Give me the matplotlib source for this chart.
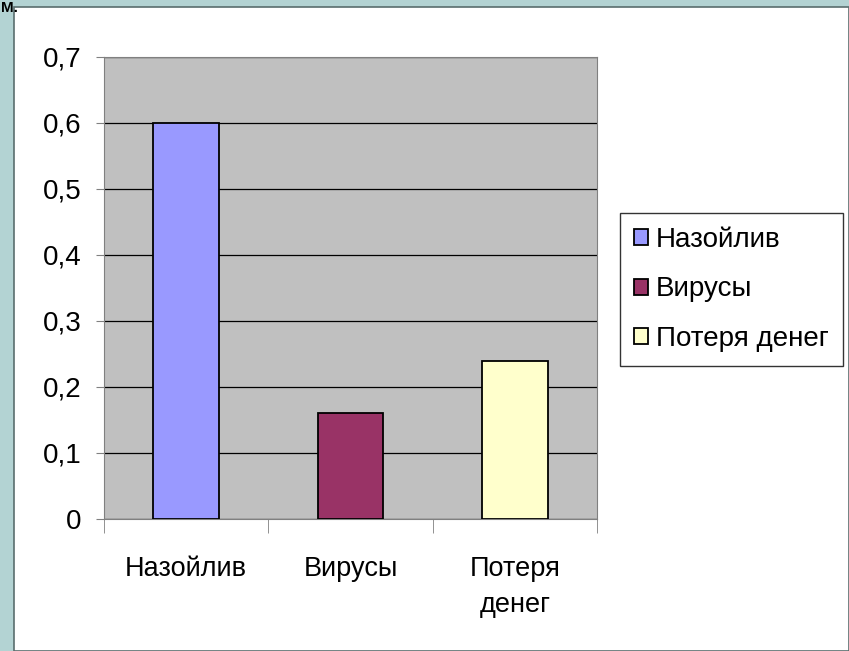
import matplotlib
matplotlib.use("Agg")
import matplotlib.pyplot as plt
from matplotlib.patches import Rectangle
import numpy as np

plt.rcParams['font.family'] = ['Liberation Sans', 'DejaVu Sans']

categories = ["Назойлив", "Вирусы", "Потеря\nденег"]
legend_labels = ["Назойлив", "Вирусы", "Потеря денег"]
values = [0.6, 0.16, 0.24]
colors = ["#9999FF", "#993366", "#FFFFCC"]
yticks = [0, 0.1, 0.2, 0.3, 0.4, 0.5, 0.6, 0.7]
yticklabels = ["0", "0,1", "0,2", "0,3", "0,4", "0,5", "0,6", "0,7"]

W, H = 849, 651
fig = plt.figure(figsize=(W/100, H/100), dpi=100)
fig.patch.set_facecolor("#B3D3D3")

# white slide panel
fig.patches.append(Rectangle((14/W, 0), 1 - 14/W, 1 - 7/H, transform=fig.transFigure,
                             facecolor="white", edgecolor="#5A6E6E", linewidth=1.2, zorder=-5))
# title fragment (clipped in the reference)
fig.text(1/W, 1 - 1/H, "М.", fontsize=11, fontweight="bold", va="top", ha="left", color="black")

ax = fig.add_axes([104/W, 1 - 519/H, (597-104)/W, (519-57)/H])
ax.set_zorder(2)
ax.set_facecolor("#C0C0C0")
x = np.arange(len(values))
bars = ax.bar(x, values, width=0.4, color=colors, edgecolor="black", linewidth=1.3, zorder=3)
ax.set_xlim(-0.5, len(values) - 0.5)
ax.set_ylim(0, 0.7)
ax.set_yticks(yticks)
ax.set_yticklabels(yticklabels, fontsize=20)
ax.yaxis.grid(True, color="black", linewidth=0.9, zorder=1)
ax.set_axisbelow(True)
ax.tick_params(axis="y", length=6, color="#808080", pad=10)

ax.set_xticks(x)
ax.set_xticklabels(categories, fontsize=19.5, linespacing=1.45)
ax.tick_params(axis="x", length=0, pad=27)
ax.set_xticks(np.arange(-0.5, len(values)), minor=True)
ax.tick_params(axis="x", which="minor", length=10, color="#808080")

for s in ["left", "top", "right", "bottom"]:
    ax.spines[s].set_color("#808080")

leg = fig.legend(bars, legend_labels, loc="upper left",
                 bbox_to_anchor=(620/W, 1 - 213/H), fontsize=20,
                 frameon=True, fancybox=False, edgecolor="black",
                 handlelength=0.5, handleheight=0.5, handletextpad=0.3,
                 labelspacing=0.85, borderpad=0.5, borderaxespad=0)
leg.get_frame().set_linewidth(1.0)
leg.set_zorder(3)

fig.savefig("out.png", dpi=100)
